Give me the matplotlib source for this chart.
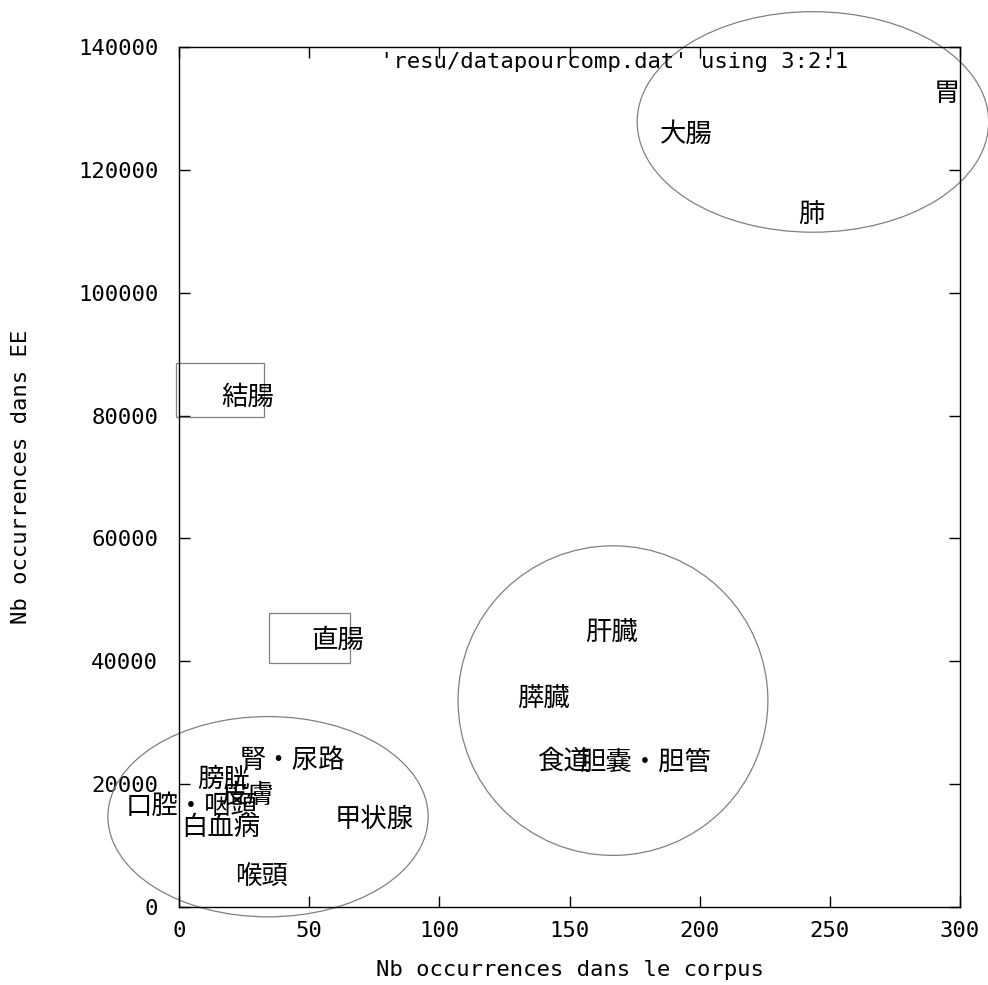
import matplotlib
matplotlib.use('Agg')
import matplotlib.pyplot as plt
from matplotlib.patches import Ellipse, Rectangle

# labels with (corpus occurrences, EE occurrences)
organs = ['胃', '大腸', '肺', '結腸', '直腸', '肝臓', '膵臓', '食道', '胆嚢・胆管',
          '腎・尿路', '膀胱', '皮膚', '口腔・咽頭', '白血病', '甲状腺', '喉頭']
corpus = [295, 195, 243, 26.5, 61, 166, 140, 147.5, 179,
          43.5, 17, 26.5, 5, 16, 75, 31.5]
ee = [132500, 125700, 112800, 83000, 43400, 44700, 33900, 23700, 23500,
      23800, 20900, 18100, 16300, 12900, 14300, 5000]

# groups drawn around the clusters: (cx, cy, width, height)
ellipses = [(243.5, 127800, 135, 35900),
            (166.7, 33600, 119, 50400),
            (34.2, 14700, 123, 32600)]
rects = [(-1.2, 79800, 33.9, 8700),
         (34.6, 39800, 31.1, 8100)]

mono = 'DejaVu Sans Mono'
fs = 16

fig = plt.figure(figsize=(9.88, 9.85), dpi=100)
ax = fig.add_axes([179 / 988, 1 - 907 / 985, 781 / 988, 860 / 985])

for cx, cy, w, h in ellipses:
    ax.add_patch(Ellipse((cx, cy), w, h, fill=False, ec='#808080', lw=0.9,
                         clip_on=False, zorder=2))
for x0, y0, w, h in rects:
    ax.add_patch(Rectangle((x0, y0), w, h, fill=False, ec='#808080', lw=0.9,
                           clip_on=False, zorder=2))

for lab, x, y in zip(organs, corpus, ee):
    ax.text(x, y, lab, ha='center', va='center', fontsize=19,
            family=['Noto Sans CJK JP', 'DejaVu Sans'], zorder=3)

ax.set_xlim(0, 300)
ax.set_ylim(0, 140000)
ax.set_xticks(range(0, 301, 50))
ax.set_yticks(range(0, 140001, 20000))
ax.tick_params(direction='in', length=8, width=1, top=True, right=True,
               labelsize=fs)
ax.tick_params(axis='x', pad=10)
ax.tick_params(axis='y', pad=15)
for t in ax.get_xticklabels() + ax.get_yticklabels():
    t.set_family(mono)
for s in ax.spines.values():
    s.set_linewidth(1)

ax.set_xlabel('Nb occurrences dans le corpus', family=mono, fontsize=fs, labelpad=14)
ax.set_ylabel('Nb occurrences dans EE', family=mono, fontsize=fs, labelpad=34)
ax.text(0.857, 0.982, "'resu/datapourcomp.dat' using 3:2:1", transform=ax.transAxes,
        ha='right', va='center', family=mono, fontsize=fs, zorder=4)

fig.savefig('out.png', dpi=100)
